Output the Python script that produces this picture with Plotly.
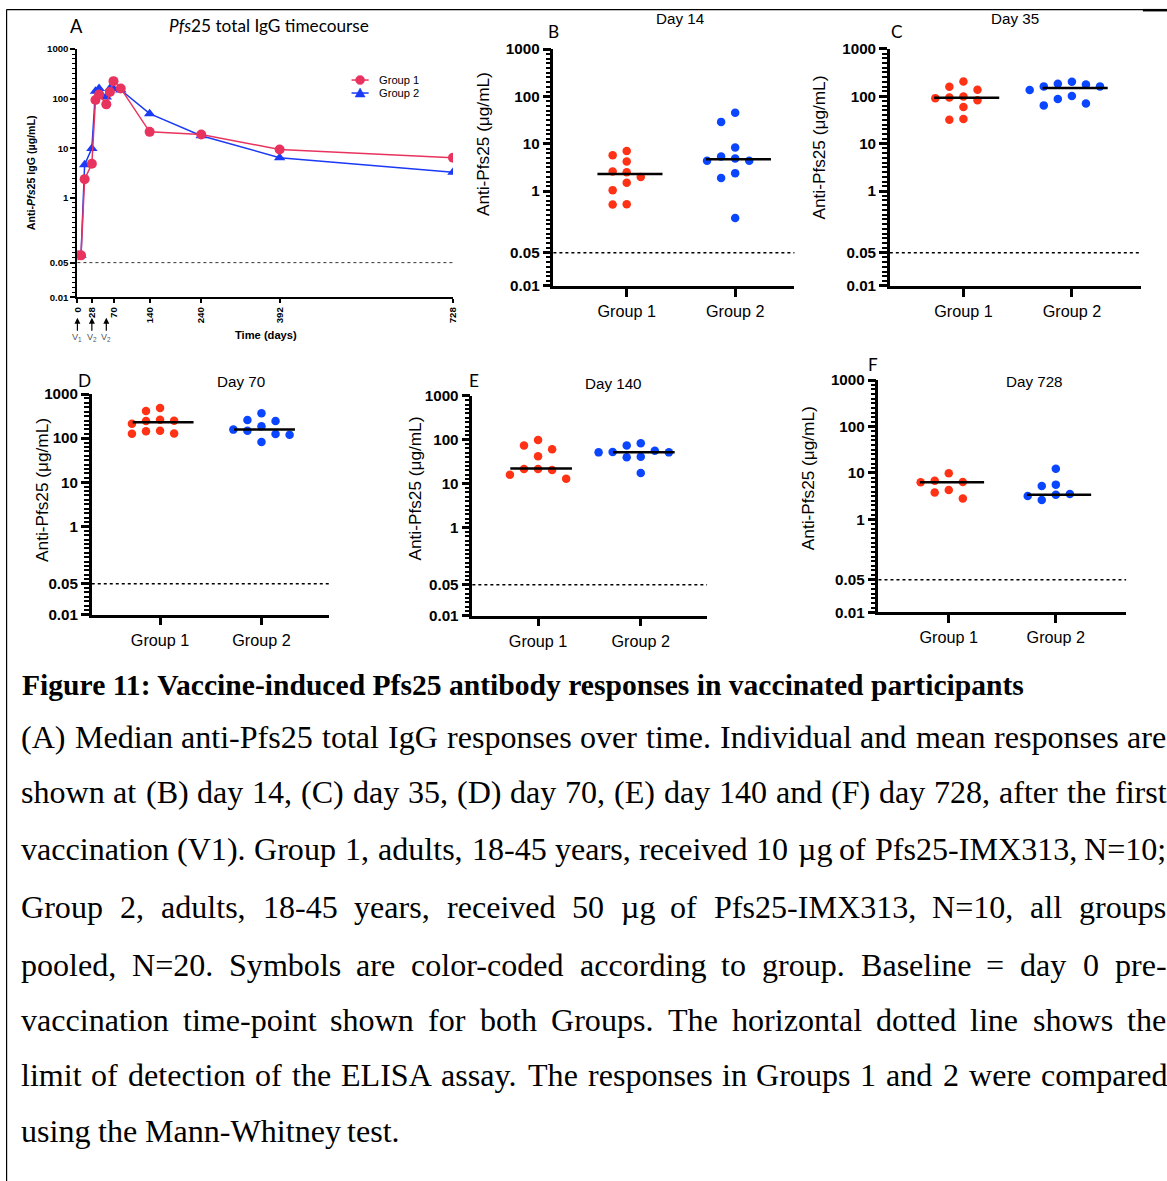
import numpy as np
import plotly.graph_objects as go

# Observed page transform: screen = S * (figure_px + 8)   (8px body margin, S = 1167/1183).
# All positions below are given in reference-picture pixels and converted with px()/py().
SX, SY = 1167 / 1183, 1181 / 1197
OFF = 8
W, H = 1175, 1189
K = 1 / SX  # font compensation

# ---------------- data ----------------
days = [0, 7, 14, 28, 35, 42, 56, 63, 70, 84, 140, 240, 392, 728]
timecourse_group1 = [0.07, 0.07, 2.4, 4.9, 94, 122, 77, 136, 226, 161, 21.5, 19, 9.5, 6.5]
timecourse_group2 = [0.07, 0.07, 4.7, 10, 142, 161, 108, 160, 158, 150, 50, 18, 6.5, 3.3]
timecourse_xticks = [0, 28, 70, 140, 240, 392, 728]
vaccination_days = [0, 28, 56]
vaccination_labels = ["V<sub>1</sub>", "V<sub>2</sub>", "V<sub>2</sub>"]

y_tickvals = [0.01, 0.05, 1, 10, 100, 1000]
y_ticktext = ["0.01", "0.05", "1", "10", "100", "1000"]
limit_of_detection = 0.05
group_labels = ["Group 1", "Group 2"]

day14_group1 = [7.0, 5.7, 4.2, 2.6, 2.5, 2.0, 1.5, 1.05, 0.53, 0.52]
day14_group2 = [45, 29, 8.3, 5.4, 4.9, 4.4, 4.4, 2.4, 1.9, 0.27]
day14_medians = [2.3, 4.7]
day35_group1 = [205, 158, 137, 99, 94, 91, 82, 59, 33, 32]
day35_group2 = [202, 183, 177, 161, 161, 135, 101, 87, 70, 64]
day35_medians = [93, 148]
day70_group1 = [482, 412, 262, 249, 244, 213, 148, 143, 128, 126]
day70_group2 = [365, 258, 244, 185, 156, 148, 124, 120, 82]
day70_medians = [228, 158]
day140_group1 = [98, 74, 61, 42, 21.5, 21.5, 20.5, 16, 13]
day140_group2 = [83, 74, 56, 52.5, 51.5, 51.5, 41, 40, 17.5]
day140_medians = [22, 51.5]
day728_group1 = [9.8, 6.8, 6.4, 6.3, 4.3, 3.8, 2.8]
day728_group2 = [12.3, 5.6, 5.2, 3.5, 3.4, 3.2, 2.6]
day728_medians = [6.3, 3.4]

caption_title = "Figure 11: Vaccine-induced Pfs25 antibody responses in vaccinated participants"
caption_lines = [
    "(A) Median anti-Pfs25 total IgG responses over time. Individual and mean responses are",
    "shown at (B) day 14, (C) day 35, (D) day 70, (E) day 140 and (F) day 728, after the first",
    "vaccination (V1). Group 1, adults, 18-45 years, received 10 \u00b5g of Pfs25-IMX313, N=10;",
    "Group 2, adults, 18-45 years, received 50 \u00b5g of Pfs25-IMX313, N=10, all groups",
    "pooled, N=20. Symbols are color-coded according to group. Baseline = day 0 pre-",
    "vaccination time-point shown for both Groups. The horizontal dotted line shows the",
    "limit of detection of the ELISA assay. The responses in Groups 1 and 2 were compared",
    "using the Mann-Whitney test.",
]

# ---------------- styling ----------------
RED_A, BLUE_A = "#E8335F", "#1A3AF5"
RED, BLUE = "#FF3216", "#0A46FF"
SANS = "Liberation Sans, Arial, sans-serif"
HUM = "Lato, Liberation Sans, sans-serif"
SERIF = "Liberation Serif, Times New Roman, serif"


def fx(x):
    return x / SX - OFF


def fy(y):
    return y / SY - OFF


def px(x):
    return fx(x) / W


def py(y):
    return 1 - fy(y) / H


def fs(s):
    return s * K


fig = go.Figure()
annotations = []
shapes = []


def ann(text, x, y, size, family=SANS, color="black", **kw):
    d = dict(text=text, x=px(x), y=py(y), xref="paper", yref="paper", showarrow=False,
             font=dict(size=fs(size), family=family, color=color), xanchor="center",
             yanchor="middle")
    d.update(kw)
    annotations.append(d)


# ---------------- Panel A ----------------
fig.add_trace(go.Scatter(x=days, y=timecourse_group2, mode="lines+markers", name="Group 2",
                         line=dict(color=BLUE_A, width=1.5),
                         marker=dict(symbol="triangle-up", size=10, color=BLUE_A),
                         xaxis="x", yaxis="y", showlegend=False))
fig.add_trace(go.Scatter(x=days, y=timecourse_group1, mode="lines+markers", name="Group 1",
                         line=dict(color=RED_A, width=1.5),
                         marker=dict(symbol="circle", size=10, color=RED_A),
                         xaxis="x", yaxis="y", showlegend=False))

layout_axes = {}
A_x0, A_x1, A_ytop, A_ybot = 79, 453, 48, 296.5
layout_axes["xaxis"] = dict(domain=[px(A_x0), px(A_x1)], range=[0, 728], anchor="y",
                            tickmode="array", tickvals=timecourse_xticks,
                            ticktext=[str(t) for t in timecourse_xticks], tickangle=-90,
                            ticks="outside", ticklen=4, tickwidth=1.5, tickcolor="black",
                            showline=True, linewidth=2, linecolor="black", showgrid=False,
                            zeroline=False,
                            tickfont=dict(family=SANS, size=fs(9.5), color="black",
                                          weight="bold"))
layout_axes["yaxis"] = dict(domain=[py(A_ybot), py(A_ytop)], type="log", range=[-2, 3], anchor="x",
                            tickmode="array", tickvals=y_tickvals, ticktext=y_ticktext,
                            ticks="outside", ticklen=5, tickwidth=1.5, tickcolor="black",
                            showline=True, linewidth=2, linecolor="black", showgrid=False,
                            zeroline=False,
                            tickfont=dict(family=SANS, size=fs(9.5), color="black",
                                          weight="bold"),
                            minor=dict(ticks="outside", ticklen=3, tickwidth=1, tickcolor="black",
                                       tickmode="linear", tick0=0, dtick=0.1, showgrid=False))
shapes.append(dict(type="line", xref="x domain", yref="y", x0=0, x1=1, y0=limit_of_detection,
                   y1=limit_of_detection, line=dict(color="#333", width=1, dash="dot")))

# legend for panel A (drawn as key glyphs + text)
LEG_X0, LEG_X1, LEG_TX = 352, 369, 377
for (name, col, sym, ly) in [("Group 1", RED_A, "circle", 79), ("Group 2", BLUE_A, "triangle", 92)]:
    shapes.append(dict(type="line", xref="paper", yref="paper", x0=px(LEG_X0), x1=px(LEG_X1),
                       y0=py(ly), y1=py(ly), line=dict(color=col, width=1.5)))
    cx = (LEG_X0 + LEG_X1) / 2
    if sym == "circle":
        shapes.append(dict(type="circle", xref="paper", yref="paper", x0=px(cx - 4.5),
                           x1=px(cx + 4.5), y0=py(ly + 4.5), y1=py(ly - 4.5),
                           fillcolor=col, line=dict(color=col, width=0.5)))
    else:
        path = (f"M {px(cx - 5)},{py(ly + 4)} L {px(cx + 5)},{py(ly + 4)} "
                f"L {px(cx)},{py(ly - 5)} Z")
        shapes.append(dict(type="path", xref="paper", yref="paper", path=path,
                           fillcolor=col, line=dict(color=col, width=0.5)))
    ann(name, LEG_TX, ly, 11, SANS, xanchor="left")

ann("A", 78, 25, 18, HUM)
ann("<i>Pfs</i>25 total IgG timecourse", 270, 24, 17, HUM)
ann("<b>Anti-<i>Pfs</i>25 IgG (\u00b5g/mL)</b>", 33, 172, 10.5, SANS, textangle=-90)
ann("<b>Time (days)</b>", 267, 334, 11, SANS)
for d, lab in zip(vaccination_days, vaccination_labels):
    annotations.append(dict(text=lab, x=d, xref="x", y=py(317), yref="paper", showarrow=True,
                            ax=0, ay=20, arrowhead=2, arrowsize=1, arrowwidth=1.2,
                            arrowcolor="black", standoff=0,
                            font=dict(size=fs(9), family=SANS, color="#555")))

# ---------------- Scatter dot panels ----------------
panels = [
    dict(n=2, g1=day14_group1, g2=day14_group2, med=day14_medians, title="Day 14", letter="B",
         x0=553, x1=793, c1=626, c2=734, ytop=48, ybot=285,
         title_xy=(679, 17), letter_xy=(553, 30), ytitle_xy=(483, 143)),
    dict(n=3, g1=day35_group1, g2=day35_group2, med=day35_medians, title="Day 35", letter="C",
         x0=888, x1=1138, c1=961.3, c2=1069.3, ytop=47.7, ybot=285,
         title_xy=(1013, 17), letter_xy=(895, 30), ytitle_xy=(817, 147)),
    dict(n=4, g1=day70_group1, g2=day70_group2, med=day70_medians, title="Day 70", letter="D",
         x0=93.3, x1=329.3, c1=161.3, c2=262.3, ytop=393.3, ybot=614,
         title_xy=(242, 381), letter_xy=(86, 380), ytitle_xy=(43, 489)),
    dict(n=5, g1=day140_group1, g2=day140_group2, med=day140_medians, title="Day 140", letter="E",
         x0=472.3, x1=706, c1=537.7, c2=640, ytop=395, ybot=615,
         title_xy=(613, 383), letter_xy=(474, 380), ytitle_xy=(415, 488)),
    dict(n=6, g1=day728_group1, g2=day728_group2, med=day728_medians, title="Day 728", letter="F",
         x0=876.7, x1=1123.3, c1=946.7, c2=1053.3, ytop=379.3, ybot=611.7,
         title_xy=(1032, 381), letter_xy=(871, 364), ytitle_xy=(806, 477)),
]

STEP_PX = 14.0
COLLIDE_PX = 10.0


def swarm_offsets(values, ppd):
    """Greedy beeswarm: returns column index for each value."""
    vals = np.asarray(values, dtype=float)
    order = np.argsort(-vals, kind="stable")
    placed = []
    cols = np.zeros(len(vals))
    for i in order:
        yp = np.log10(vals[i]) * ppd
        for k in [0, -1, 1, -2, 2, -3, 3]:
            if all(not (c == k and abs(yy - yp) < COLLIDE_PX) for c, yy in placed):
                break
        placed.append((k, yp))
        cols[i] = k
    return cols


for p in panels:
    n = p["n"]
    ppu = p["c2"] - p["c1"]
    ppd = (p["ybot"] - p["ytop"]) / 5.0
    r0 = (p["x0"] - p["c1"]) / ppu
    r1 = (p["x1"] - p["c1"]) / ppu
    for gi, (vals, col) in enumerate([(p["g1"], RED), (p["g2"], BLUE)]):
        offs = swarm_offsets(vals, ppd) * STEP_PX / ppu
        xs = gi + offs
        fig.add_trace(go.Scatter(x=xs, y=vals, mode="markers", showlegend=False,
                                 marker=dict(size=8.5, color=col),
                                 xaxis=f"x{n}", yaxis=f"y{n}"))
        shapes.append(dict(type="line", xref=f"x{n}", yref=f"y{n}", x0=gi - 0.27, x1=gi + 0.33,
                           y0=p["med"][gi], y1=p["med"][gi], line=dict(color="black", width=2.5)))
    layout_axes[f"xaxis{n}"] = dict(domain=[px(p["x0"]), px(p["x1"])], range=[r0, r1],
                                    anchor=f"y{n}", tickmode="array", tickvals=[0, 1],
                                    ticktext=group_labels, ticks="outside", ticklen=8,
                                    tickwidth=2.5, tickcolor="black", showline=True,
                                    linewidth=2.5, linecolor="black", showgrid=False,
                                    zeroline=False, ticklabelstandoff=1,
                                    tickfont=dict(family=SANS, size=fs(16), color="black"))
    layout_axes[f"yaxis{n}"] = dict(domain=[py(p["ybot"]), py(p["ytop"])], type="log",
                                    range=[-2, 3], anchor=f"x{n}", tickmode="array",
                                    tickvals=y_tickvals, ticktext=y_ticktext, ticks="outside",
                                    ticklen=8, tickwidth=2.5, tickcolor="black", showline=True,
                                    linewidth=2.5, linecolor="black", showgrid=False,
                                    zeroline=False,
                                    tickfont=dict(family=SANS, size=fs(15), color="black",
                                                  weight="bold"),
                                    minor=dict(ticks="outside", ticklen=5, tickwidth=1.5,
                                               tickcolor="black", tickmode="linear", tick0=0,
                                               dtick=0.1, showgrid=False))
    shapes.append(dict(type="line", xref=f"x{n} domain", yref=f"y{n}", x0=0, x1=1,
                       y0=limit_of_detection, y1=limit_of_detection,
                       line=dict(color="black", width=1.5, dash="dot")))
    ann(p["title"], *p["title_xy"], 15, SANS)
    ann(p["letter"], *p["letter_xy"], 17, HUM)
    ann("Anti-Pfs25 (\u03bcg/mL)", *p["ytitle_xy"], 17, SANS, textangle=-90)

# ---------------- caption ----------------
TIMES = {' ': 250, '(': 333, ')': 333, ',': 250, '.': 250, '-': 333, ':': 278, ';': 278,
         '=': 564, '\u00b5': 500}
for ch in "0123456789":
    TIMES[ch] = 500
TIMES.update(dict(zip("ABCDEFGHIJKLMNOPQRSTUVWXYZ",
                      [722, 667, 667, 722, 611, 556, 722, 722, 333, 389, 722, 611, 889, 722, 722,
                       556, 722, 667, 556, 611, 722, 722, 944, 722, 722, 611])))
TIMES.update(dict(zip("abcdefghijklmnopqrstuvwxyz",
                      [444, 500, 444, 500, 444, 333, 500, 500, 278, 278, 500, 278, 778, 500, 500,
                       500, 500, 333, 389, 278, 500, 500, 722, 500, 500, 444])))


def em_width(s):
    return sum(TIMES.get(c, 500) for c in s) / 1000.0


TXT_L, TXT_R = 22, 1162
line_ys = [737, 792, 849, 907, 965, 1020, 1075, 1131]
natural = [em_width(l) for l in caption_lines[:-1]]
S = 0.985 * min((TXT_R - TXT_L) / w for w in natural)  # font size in reference pixels

ann(f"<b>{caption_title}</b>", TXT_L, 685, 29.2, SERIF, xanchor="left")
for li, (line, yy) in enumerate(zip(caption_lines, line_ys)):
    words = line.split(" ")
    widths = [em_width(w) * S for w in words]
    if li < len(caption_lines) - 1:
        gap = (TXT_R - TXT_L - sum(widths)) / (len(words) - 1)
    else:
        gap = TIMES[' '] / 1000.0 * S
    x = TXT_L
    for w, wd in zip(words, widths):
        annotations.append(dict(text=w, x=px(x), y=py(yy), xref="paper", yref="paper",
                                showarrow=False, xanchor="left", yanchor="middle", borderpad=0,
                                font=dict(size=fs(S), family=SERIF, color="black")))
        x += wd + gap

# ---------------- frame ----------------
top_y = 1 - 0.6 / H
left_x = 0.6 / W
shapes.append(dict(type="line", xref="paper", yref="paper", x0=left_x, x1=1, y0=top_y, y1=top_y,
                   line=dict(color="black", width=1.2)))
shapes.append(dict(type="line", xref="paper", yref="paper", x0=left_x, x1=left_x, y0=top_y,
                   y1=0, line=dict(color="black", width=1.2)))
shapes.append(dict(type="line", xref="paper", yref="paper", x0=px(1140), x1=1, y0=1 - 1.2 / H,
                   y1=1 - 1.2 / H, line=dict(color="black", width=2.5)))

fig.update_layout(
    width=W, height=H, margin=dict(l=0, r=0, t=0, b=0),
    paper_bgcolor="white", plot_bgcolor="white",
    showlegend=False,
    annotations=annotations, shapes=shapes,
    **layout_axes,
)

fig.write_html("out.html")
